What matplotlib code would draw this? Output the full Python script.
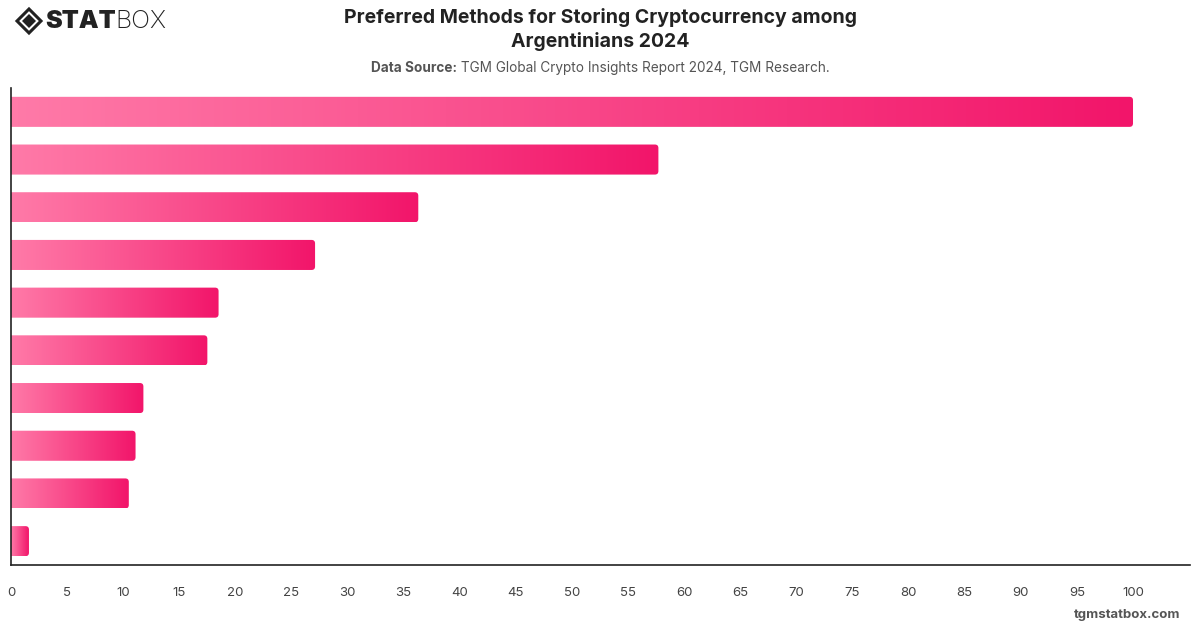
import numpy as np
import matplotlib
matplotlib.use("Agg")
import matplotlib.pyplot as plt
from matplotlib.patches import FancyBboxPatch, Polygon
from matplotlib.colors import LinearSegmentedColormap

plt.rcParams['font.family'] = ['Inter', 'DejaVu Sans']

# Data (category labels are not shown in the reference)
categories = [f"Method {i}" for i in range(1, 11)]
values = [100, 57.7, 36.3, 27.1, 18.5, 17.5, 11.8, 11.1, 10.5, 1.6]
x_ticks = list(range(0, 101, 5))

title = "Preferred Methods for Storing Cryptocurrency among\nArgentinians 2024"
source_bold = "Data Source:"
source_text = " TGM Global Crypto Insights Report 2024, TGM Research."
footer = "tgmstatbox.com"

W, H = 1200, 628
fig = plt.figure(figsize=(W / 100, H / 100), dpi=100)
fig.patch.set_facecolor("white")

ax_left, ax_right, ax_top, ax_bot = 11, 1190, 88, 565
ax = fig.add_axes([ax_left / W, 1 - ax_bot / H, (ax_right - ax_left) / W, (ax_bot - ax_top) / H])

xmax = 105.08
n = len(values)
ax.set_xlim(0, xmax)
ax.set_ylim(n - 0.5, -0.5)

cmap = LinearSegmentedColormap.from_list("pinkgrad", ["#ff7aa8", "#f2156a"])
grad = np.linspace(0, 1, 256).reshape(1, -1)

px_per_x = (ax_right - ax_left) / xmax
px_per_y = (ax_bot - ax_top) / n
r_px = 3.5
r_x = r_px / px_per_x
r_y = r_px / px_per_y
bar_h = 0.63

for i, v in enumerate(values):
    y0 = i - bar_h / 2
    patch = FancyBboxPatch((-1.0, y0), v + 1.0, bar_h,
                           boxstyle=f"round,pad=0,rounding_size={r_x}",
                           mutation_aspect=r_y / r_x,
                           facecolor="none", edgecolor="none")
    ax.add_patch(patch)
    im = ax.imshow(grad, cmap=cmap, aspect="auto",
                   extent=[0, v, y0 + bar_h, y0], interpolation="bilinear", zorder=2)
    im.set_clip_path(patch)

ax.set_xticks(x_ticks)
ax.set_xticklabels([str(t) for t in x_ticks])
ax.set_yticks([])
ax.tick_params(axis="x", length=0, pad=16, labelsize=9.5, labelcolor="#444444")
for s in ["top", "right"]:
    ax.spines[s].set_visible(False)
for s in ["left", "bottom"]:
    ax.spines[s].set_color("#222222")
    ax.spines[s].set_linewidth(1.2)

# Title and subtitle
fig.text(600 / W, 1 - 29.5 / H, title, ha="center", va="center", fontsize=14,
         fontweight="bold", color="#222222", linespacing=1.3)
t1 = fig.text(0, 0, source_bold, fontsize=9.8, fontweight="bold", color="#555555")
t2 = fig.text(0, 0, source_text, fontsize=9.8, color="#555555")
fig.canvas.draw()
r = fig.canvas.get_renderer()
w1 = t1.get_window_extent(r).width
w2 = t2.get_window_extent(r).width
start = 600 - (w1 + w2) / 2
t1.set_position((start / W, 1 - 72 / H))
t2.set_position(((start + w1) / W, 1 - 72 / H))

# Logo
cx, cy = 29, 21
outer = Polygon([(cx - 12, cy), (cx, cy - 12), (cx + 12, cy), (cx, cy + 12)], closed=True,
                transform=None, facecolor="none", edgecolor="#222222", linewidth=2.2)
inner = Polygon([(cx - 7, cy), (cx, cy - 7), (cx + 7, cy), (cx, cy + 7)], closed=True,
                transform=None, facecolor="#222222", edgecolor="none")
for p in (outer, inner):
    p.set_xy([(x, H - y) for x, y in p.get_xy()])
    fig.patches.append(p)
    p.set_figure(fig)
ts = fig.text(45 / W, 1 - 21 / H, "STAT", fontsize=18, fontweight="black", color="#222222",
              va="center", ha="left")
fig.canvas.draw()
ws = ts.get_window_extent(fig.canvas.get_renderer()).width
fig.text((45 + ws) / W, 1 - 21 / H, "BOX", fontsize=18, fontweight="light", color="#222222",
         va="center", ha="left")

# Footer
fig.text(1180 / W, 1 - 615 / H, footer, ha="right", va="center", fontsize=9.5,
         fontweight="bold", color="#555555")

fig.savefig("out.png", dpi=100, facecolor="white")
